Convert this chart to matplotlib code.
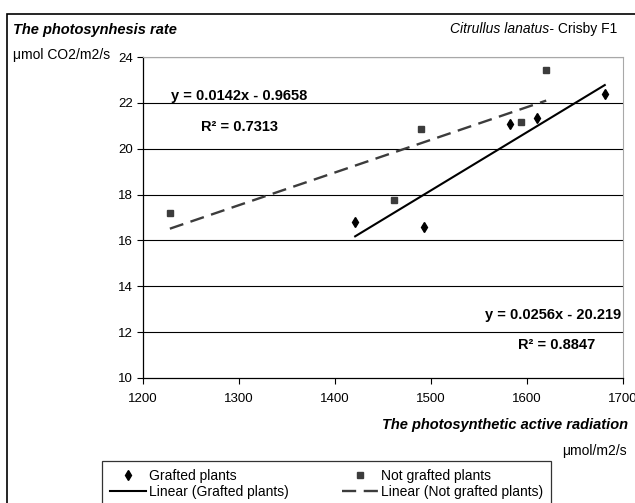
import numpy as np
import matplotlib
matplotlib.use("Agg")
import matplotlib.pyplot as plt
from matplotlib import font_manager
from matplotlib.lines import Line2D
from matplotlib.patches import Rectangle

names = {f.name for f in font_manager.fontManager.ttflist}
FONT = "Liberation Sans Narrow" if "Liberation Sans Narrow" in names else "Liberation Sans"
plt.rcParams["font.family"] = [FONT, "DejaVu Sans"]

# data
par_grafted = [1421, 1493, 1582, 1610, 1681]
rate_grafted = [16.8, 16.57, 21.09, 21.35, 22.39]
par_not = [1228, 1461, 1490, 1594, 1620]
rate_not = [17.18, 17.78, 20.86, 21.15, 23.45]

eq_grafted = "y = 0.0256x - 20.219"
r2_grafted = "R² = 0.8847"
eq_not = "y = 0.0142x - 0.9658"
r2_not = "R² = 0.7313"

xticks = [1200, 1300, 1400, 1500, 1600, 1700]
yticks = [10, 12, 14, 16, 18, 20, 22, 24]

W, H = 635, 503
fig = plt.figure(figsize=(W / 100, H / 100), dpi=100)

def fx(px):
    return px / W

def fy(py):
    return 1 - py / H

# outer chart border (runs off at right / bottom)
fig.patches.append(Rectangle((fx(7), fy(600)), 1.2, fy(14) - fy(600),
                             transform=fig.transFigure, fill=False,
                             edgecolor="black", lw=1.2))

ax = fig.add_axes([fx(143), fy(378), fx(623) - fx(143), fy(57) - fy(378)])

ax.set_xlim(1200, 1700)
ax.set_ylim(10, 24)
ax.set_xticks(xticks)
ax.set_yticks(yticks)
for y in yticks[1:]:
    ax.axhline(y, color="black", lw=0.8, zorder=1)

ax.tick_params(axis="y", direction="out", length=4, width=0.8, pad=3, labelsize=9.5)
ax.tick_params(axis="x", direction="out", length=4, width=0.8, pad=7, labelsize=9.5)
ax.spines["left"].set_linewidth(0.9)
ax.spines["bottom"].set_linewidth(0.9)
ax.spines["top"].set_color("#a8a8a8")
ax.spines["right"].set_color("#a8a8a8")

# trend lines
k1, b1 = np.polyfit(par_grafted, rate_grafted, 1)
xs1 = np.array([min(par_grafted), max(par_grafted)])
ax.plot(xs1, k1 * xs1 + b1, color="black", lw=1.5, zorder=3)

k2, b2 = np.polyfit(par_not, rate_not, 1)
xs2 = np.array([min(par_not), max(par_not)])
ax.plot(xs2, k2 * xs2 + b2, color="#3c3c3c", lw=1.7, dashes=(6, 3.2), zorder=3)

ax.plot(par_grafted, rate_grafted, linestyle="none", marker="d", ms=5.5,
        color="black", zorder=4)
ax.plot(par_not, rate_not, linestyle="none", marker="s", ms=4.5,
        color="#3c3c3c", zorder=4)

# equation labels
ax.text(1300, 22.3, eq_not, fontsize=10.5, fontweight="bold", ha="center", va="center")
ax.text(1301, 20.95, r2_not, fontsize=10.5, fontweight="bold", ha="center", va="center")
ax.text(1627, 12.75, eq_grafted, fontsize=10.5, fontweight="bold", ha="center", va="center")
ax.text(1631, 11.45, r2_grafted, fontsize=10.5, fontweight="bold", ha="center", va="center")

# titles
fig.text(fx(13), fy(30), "The photosynhesis rate", fontsize=10.5,
         fontweight="bold", fontstyle="italic", ha="left", va="center")
fig.text(fx(13), fy(55), "μmol CO2/m2/s", fontsize=10, ha="left", va="center")
t = fig.text(fx(617), fy(29), " Crisby F1", fontsize=10, ha="right", va="center")
fig.canvas.draw()
bb = t.get_window_extent()
fig.text(bb.x0 / W, fy(29), "Citrullus lanatus-", fontsize=10, fontstyle="italic",
         ha="right", va="center")
fig.text(fx(628), fy(425), "The photosynthetic active radiation", fontsize=10.5,
         fontweight="bold", fontstyle="italic", ha="right", va="center")
fig.text(fx(627), fy(451), "μmol/m2/s", fontsize=10, ha="right", va="center")

# legend
handles = [
    Line2D([], [], linestyle="none", marker="d", ms=5.5, color="black"),
    Line2D([], [], color="black", lw=1.5),
    Line2D([], [], linestyle="none", marker="s", ms=4.5, color="#3c3c3c"),
    Line2D([], [], color="#3c3c3c", lw=1.7, dashes=(6, 3.2)),
]
labels = ["Grafted plants", "Linear (Grafted plants)",
          "Not grafted plants", "Linear (Not grafted plants)"]
leg = fig.legend(handles, labels, ncol=2, loc="upper left",
                 bbox_to_anchor=(fx(102), fy(461)), fontsize=10,
                 frameon=True, fancybox=False, edgecolor="black",
                 handlelength=2.6, handletextpad=0.25, columnspacing=3.8,
                 labelspacing=0.15, borderpad=0.55, borderaxespad=0)
leg.get_frame().set_linewidth(0.9)

fig.savefig("out.png", dpi=100)
